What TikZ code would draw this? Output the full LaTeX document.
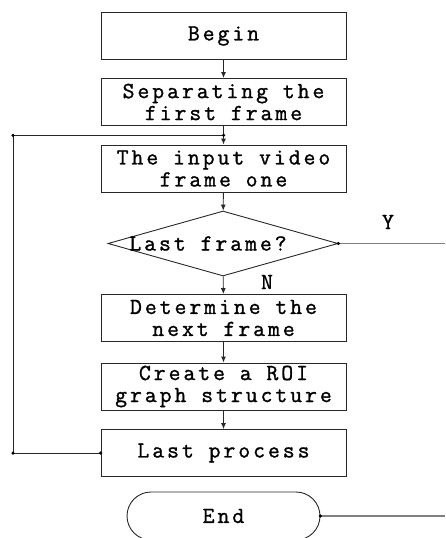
\documentclass[tikz,border=0pt]{standalone}
\usepackage{fontspec}
\usetikzlibrary{shapes,arrows.meta,positioning,calc}
\newfontfamily\flowfont[LetterSpace=13,FakeBold=1.2]{Latin Modern Mono}
\newcommand{\boxfont}{\flowfont\fontsize{23pt}{22pt}\selectfont}
\definecolor{linedark}{RGB}{40,40,40}
\definecolor{linegray}{RGB}{128,128,128}

\begin{document}
\begin{tikzpicture}[x=1pt, y=-1pt,
    proc/.style={draw=linedark, line width=0.9pt, rectangle, minimum width=245pt, minimum height=47pt,
        inner sep=0pt, align=center, font=\boxfont},
    decision/.style={draw=linedark, line width=0.9pt, diamond, minimum width=230pt, minimum height=65pt, inner sep=0pt},
    terminal/.style={draw=linedark, line width=0.9pt, rectangle, rounded corners=24pt, minimum width=193pt,
        minimum height=48pt, inner sep=0pt, font=\boxfont},
    flow/.style={draw=linedark, line width=0.9pt, -{Latex[length=6pt,width=5pt]}},
    loopline/.style={draw=linedark, line width=0.9pt},
    exitline/.style={draw=linegray, line width=1.2pt},
    dot/.style={circle, fill=black, inner sep=0pt, minimum size=3.5pt},
    yn/.style={font=\boxfont},
]
    \useasboundingbox (0,0) rectangle (445,538);
    % Main column
    \node[proc] (begin) at (223.5,36) {Begin};
    \node[proc] (sep) at (223.5,102) {Separating the\\first frame};
    \node[proc] (input) at (223.5,168.5) {The input video\\frame one};
    \node[decision] (dec) at (223,243.5) {};
    \node[font=\boxfont] (dectext) at ([xshift=-15pt]dec.center) {Last frame?};
    \node[proc] (next) at (223.5,318) {Determine the\\next frame};
    \node[proc] (roi) at (223.5,386.5) {Create a ROI\\graph structure};
    \node[proc] (last) at (223.5,453) {Last process};
    \node[terminal] (end) at (223.5,516) {End};
    % Labels
    \node[yn] (ylab) at (388,222) {Y};
    \node[yn] (nlab) at (267,282) {N};
    % Flow arrows
    \draw[flow] (begin) -- (sep);
    \draw[flow] (sep) -- (input);
    \draw[flow] (input) -- (dec);
    \draw[flow] (dec) -- (next);
    \draw[flow] (next) -- (roi);
    \draw[flow] (roi) -- (last);
    % Loop back
    \coordinate (join) at ($(sep.south)!0.5!(input.north)$);
    \coordinate (cl) at (13,453);
    \coordinate (ct) at (cl |- join);
    \draw[loopline] (last.west) -- (cl) -- (ct) -- (join);
    \foreach \p in {last.west, cl, ct, join}
        \node[dot] at (\p) {};
    % Exits to the right
    \coordinate (rim) at (445,0);
    \draw[exitline] (dec.east) -- (dec.east -| rim);
    \draw[exitline] (end.east) -- (end.east -| rim);
    \node[dot] at (dec.east) {};
    \node[dot] at (end.east) {};
\end{tikzpicture}
\end{document}
